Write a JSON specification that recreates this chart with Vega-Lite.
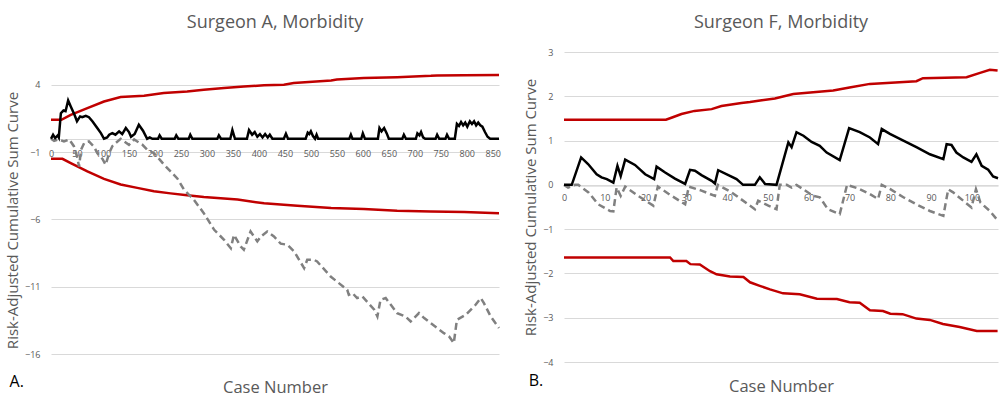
{
  "$schema": "https://vega.github.io/schema/vega-lite/v6.json",
  "padding": {"left": 5, "top": 14, "right": 0, "bottom": 0},
  "background": "white",
  "spacing": 19,
  "config": {
    "view": {"stroke": null},
    "font": "Open Sans",
    "axis": {
      "labelFont": "Open Sans", "titleFont": "Open Sans",
      "labelColor": "#595959", "titleColor": "#595959",
      "titleFontWeight": "normal", "labelFontSize": 9, "titleFontSize": 15,
      "gridColor": "#D9D9D9", "domainColor": "#D9D9D9", "ticks": false
    },
    "title": {"font": "Open Sans", "fontSize": 18, "fontWeight": "normal", "color": "#595959"}
  },
  "datasets": {
    "surgeonA": [
      {"series": "Upper", "case": 0, "value": 1.41},
      {"series": "Upper", "case": 20, "value": 1.41},
      {"series": "Upper", "case": 38, "value": 1.78},
      {"series": "Upper", "case": 70, "value": 2.28},
      {"series": "Upper", "case": 102, "value": 2.77},
      {"series": "Upper", "case": 134, "value": 3.1},
      {"series": "Upper", "case": 179, "value": 3.2},
      {"series": "Upper", "case": 217, "value": 3.4},
      {"series": "Upper", "case": 262, "value": 3.52},
      {"series": "Upper", "case": 294, "value": 3.64},
      {"series": "Upper", "case": 333, "value": 3.77},
      {"series": "Upper", "case": 371, "value": 3.89},
      {"series": "Upper", "case": 410, "value": 3.97},
      {"series": "Upper", "case": 448, "value": 4.02},
      {"series": "Upper", "case": 467, "value": 4.14},
      {"series": "Upper", "case": 539, "value": 4.33},
      {"series": "Upper", "case": 550, "value": 4.4},
      {"series": "Upper", "case": 602, "value": 4.51},
      {"series": "Upper", "case": 666, "value": 4.58},
      {"series": "Upper", "case": 731, "value": 4.68},
      {"series": "Upper", "case": 743, "value": 4.71},
      {"series": "Upper", "case": 795, "value": 4.73},
      {"series": "Upper", "case": 862, "value": 4.74},
      {"series": "Lower", "case": 0, "value": -1.49},
      {"series": "Lower", "case": 22, "value": -1.49},
      {"series": "Lower", "case": 38, "value": -1.81},
      {"series": "Lower", "case": 70, "value": -2.43},
      {"series": "Lower", "case": 102, "value": -2.98},
      {"series": "Lower", "case": 134, "value": -3.4},
      {"series": "Lower", "case": 166, "value": -3.65},
      {"series": "Lower", "case": 198, "value": -3.9},
      {"series": "Lower", "case": 230, "value": -4.06},
      {"series": "Lower", "case": 262, "value": -4.2},
      {"series": "Lower", "case": 294, "value": -4.33},
      {"series": "Lower", "case": 359, "value": -4.52},
      {"series": "Lower", "case": 410, "value": -4.8},
      {"series": "Lower", "case": 448, "value": -4.9},
      {"series": "Lower", "case": 474, "value": -4.98},
      {"series": "Lower", "case": 539, "value": -5.15},
      {"series": "Lower", "case": 602, "value": -5.23},
      {"series": "Lower", "case": 666, "value": -5.35},
      {"series": "Lower", "case": 731, "value": -5.4},
      {"series": "Lower", "case": 795, "value": -5.45},
      {"series": "Lower", "case": 862, "value": -5.53},
      {"series": "Observed", "case": 0, "value": 0},
      {"series": "Observed", "case": 4, "value": 0.3},
      {"series": "Observed", "case": 8, "value": 0.05},
      {"series": "Observed", "case": 13, "value": 0.25},
      {"series": "Observed", "case": 15, "value": 0.1},
      {"series": "Observed", "case": 19, "value": 1.9},
      {"series": "Observed", "case": 24, "value": 2.1},
      {"series": "Observed", "case": 28, "value": 2.05},
      {"series": "Observed", "case": 33, "value": 2.85},
      {"series": "Observed", "case": 38, "value": 2.4},
      {"series": "Observed", "case": 45, "value": 1.8},
      {"series": "Observed", "case": 50, "value": 1.3},
      {"series": "Observed", "case": 56, "value": 1.66},
      {"series": "Observed", "case": 60, "value": 1.6},
      {"series": "Observed", "case": 67, "value": 1.71},
      {"series": "Observed", "case": 73, "value": 1.6},
      {"series": "Observed", "case": 80, "value": 1.29},
      {"series": "Observed", "case": 89, "value": 0.8},
      {"series": "Observed", "case": 96, "value": 0.42},
      {"series": "Observed", "case": 102, "value": 0},
      {"series": "Observed", "case": 108, "value": 0.1},
      {"series": "Observed", "case": 112, "value": 0.3},
      {"series": "Observed", "case": 118, "value": 0.42},
      {"series": "Observed", "case": 124, "value": 0.3},
      {"series": "Observed", "case": 131, "value": 0.55},
      {"series": "Observed", "case": 137, "value": 0.35},
      {"series": "Observed", "case": 144, "value": 0.8},
      {"series": "Observed", "case": 150, "value": 0.5},
      {"series": "Observed", "case": 154, "value": 0.15},
      {"series": "Observed", "case": 161, "value": 0.35},
      {"series": "Observed", "case": 169, "value": 1.04},
      {"series": "Observed", "case": 177, "value": 0.6},
      {"series": "Observed", "case": 185, "value": 0},
      {"series": "Observed", "case": 190, "value": 0.1},
      {"series": "Observed", "case": 195, "value": 0},
      {"series": "Observed", "case": 206, "value": 0},
      {"series": "Observed", "case": 209, "value": 0.25},
      {"series": "Observed", "case": 213, "value": 0},
      {"series": "Observed", "case": 238, "value": 0},
      {"series": "Observed", "case": 241, "value": 0.25},
      {"series": "Observed", "case": 245, "value": 0},
      {"series": "Observed", "case": 265, "value": 0},
      {"series": "Observed", "case": 268, "value": 0.3},
      {"series": "Observed", "case": 272, "value": 0},
      {"series": "Observed", "case": 320, "value": 0},
      {"series": "Observed", "case": 323, "value": 0.25},
      {"series": "Observed", "case": 327, "value": 0},
      {"series": "Observed", "case": 345, "value": 0},
      {"series": "Observed", "case": 349, "value": 0.65},
      {"series": "Observed", "case": 354, "value": 0},
      {"series": "Observed", "case": 377, "value": 0},
      {"series": "Observed", "case": 381, "value": 0.65},
      {"series": "Observed", "case": 387, "value": 0.3},
      {"series": "Observed", "case": 392, "value": 0.5},
      {"series": "Observed", "case": 397, "value": 0.15},
      {"series": "Observed", "case": 402, "value": 0.35},
      {"series": "Observed", "case": 407, "value": 0.1},
      {"series": "Observed", "case": 412, "value": 0.35},
      {"series": "Observed", "case": 417, "value": 0.1},
      {"series": "Observed", "case": 421, "value": 0.3},
      {"series": "Observed", "case": 426, "value": 0},
      {"series": "Observed", "case": 448, "value": 0},
      {"series": "Observed", "case": 452, "value": 0.37},
      {"series": "Observed", "case": 456, "value": 0},
      {"series": "Observed", "case": 490, "value": 0},
      {"series": "Observed", "case": 494, "value": 0.45},
      {"series": "Observed", "case": 497, "value": 0.35},
      {"series": "Observed", "case": 500, "value": 0.55},
      {"series": "Observed", "case": 504, "value": 0.2},
      {"series": "Observed", "case": 508, "value": 0},
      {"series": "Observed", "case": 511, "value": 0.3},
      {"series": "Observed", "case": 514, "value": 0},
      {"series": "Observed", "case": 574, "value": 0},
      {"series": "Observed", "case": 577, "value": 0.3},
      {"series": "Observed", "case": 580, "value": 0},
      {"series": "Observed", "case": 597, "value": 0},
      {"series": "Observed", "case": 600, "value": 0.4},
      {"series": "Observed", "case": 604, "value": 0},
      {"series": "Observed", "case": 629, "value": 0},
      {"series": "Observed", "case": 632, "value": 0.8},
      {"series": "Observed", "case": 636, "value": 0.55},
      {"series": "Observed", "case": 641, "value": 0.8},
      {"series": "Observed", "case": 646, "value": 0.4},
      {"series": "Observed", "case": 650, "value": 0},
      {"series": "Observed", "case": 676, "value": 0},
      {"series": "Observed", "case": 679, "value": 0.3},
      {"series": "Observed", "case": 683, "value": 0},
      {"series": "Observed", "case": 702, "value": 0},
      {"series": "Observed", "case": 705, "value": 0.4},
      {"series": "Observed", "case": 709, "value": 0.25},
      {"series": "Observed", "case": 712, "value": 0.5},
      {"series": "Observed", "case": 716, "value": 0.1},
      {"series": "Observed", "case": 720, "value": 0},
      {"series": "Observed", "case": 740, "value": 0},
      {"series": "Observed", "case": 743, "value": 0.3},
      {"series": "Observed", "case": 747, "value": 0},
      {"series": "Observed", "case": 759, "value": 0},
      {"series": "Observed", "case": 762, "value": 0.3},
      {"series": "Observed", "case": 766, "value": 0},
      {"series": "Observed", "case": 777, "value": 0},
      {"series": "Observed", "case": 781, "value": 1.1},
      {"series": "Observed", "case": 785, "value": 0.95},
      {"series": "Observed", "case": 789, "value": 1.25},
      {"series": "Observed", "case": 793, "value": 1.0},
      {"series": "Observed", "case": 797, "value": 1.2},
      {"series": "Observed", "case": 801, "value": 0.9},
      {"series": "Observed", "case": 806, "value": 1.3},
      {"series": "Observed", "case": 810, "value": 1.1},
      {"series": "Observed", "case": 814, "value": 1.3},
      {"series": "Observed", "case": 818, "value": 1.0},
      {"series": "Observed", "case": 822, "value": 1.2},
      {"series": "Observed", "case": 826, "value": 1.0},
      {"series": "Observed", "case": 830, "value": 0.9},
      {"series": "Observed", "case": 835, "value": 0.5},
      {"series": "Observed", "case": 840, "value": 0.15},
      {"series": "Observed", "case": 845, "value": 0},
      {"series": "Observed", "case": 862, "value": 0},
      {"series": "Negative", "case": 0, "value": 0},
      {"series": "Negative", "case": 6, "value": -0.15},
      {"series": "Negative", "case": 15, "value": -0.05},
      {"series": "Negative", "case": 25, "value": -0.2},
      {"series": "Negative", "case": 35, "value": -0.05},
      {"series": "Negative", "case": 44, "value": -0.55},
      {"series": "Negative", "case": 50, "value": -1.3},
      {"series": "Negative", "case": 54, "value": -2.06},
      {"series": "Negative", "case": 58, "value": -0.8},
      {"series": "Negative", "case": 64, "value": -0.3},
      {"series": "Negative", "case": 73, "value": -0.2},
      {"series": "Negative", "case": 83, "value": -0.6},
      {"series": "Negative", "case": 89, "value": -1.07},
      {"series": "Negative", "case": 99, "value": -1.5},
      {"series": "Negative", "case": 105, "value": -1.93},
      {"series": "Negative", "case": 112, "value": -1.07},
      {"series": "Negative", "case": 118, "value": -0.55},
      {"series": "Negative", "case": 125, "value": -0.3},
      {"series": "Negative", "case": 134, "value": 0},
      {"series": "Negative", "case": 141, "value": -0.2},
      {"series": "Negative", "case": 150, "value": -0.45},
      {"series": "Negative", "case": 160, "value": -0.05},
      {"series": "Negative", "case": 166, "value": -0.2},
      {"series": "Negative", "case": 176, "value": -0.45},
      {"series": "Negative", "case": 185, "value": -0.8},
      {"series": "Negative", "case": 198, "value": -1.07},
      {"series": "Negative", "case": 208, "value": -1.5},
      {"series": "Negative", "case": 217, "value": -1.9},
      {"series": "Negative", "case": 230, "value": -2.43},
      {"series": "Negative", "case": 243, "value": -2.95},
      {"series": "Negative", "case": 256, "value": -3.79},
      {"series": "Negative", "case": 275, "value": -4.54},
      {"series": "Negative", "case": 294, "value": -5.53},
      {"series": "Negative", "case": 314, "value": -6.77},
      {"series": "Negative", "case": 333, "value": -7.51},
      {"series": "Negative", "case": 346, "value": -8.14},
      {"series": "Negative", "case": 352, "value": -7.14},
      {"series": "Negative", "case": 365, "value": -8.0},
      {"series": "Negative", "case": 371, "value": -8.25},
      {"series": "Negative", "case": 384, "value": -6.89},
      {"series": "Negative", "case": 397, "value": -7.63},
      {"series": "Negative", "case": 404, "value": -7.26},
      {"series": "Negative", "case": 416, "value": -6.89},
      {"series": "Negative", "case": 429, "value": -7.26},
      {"series": "Negative", "case": 442, "value": -7.8},
      {"series": "Negative", "case": 455, "value": -7.88},
      {"series": "Negative", "case": 468, "value": -8.38},
      {"series": "Negative", "case": 487, "value": -9.62},
      {"series": "Negative", "case": 493, "value": -9.0},
      {"series": "Negative", "case": 506, "value": -9.0},
      {"series": "Negative", "case": 512, "value": -9.12},
      {"series": "Negative", "case": 538, "value": -10.24},
      {"series": "Negative", "case": 570, "value": -11.23},
      {"series": "Negative", "case": 573, "value": -11.6},
      {"series": "Negative", "case": 580, "value": -11.47},
      {"series": "Negative", "case": 589, "value": -11.84},
      {"series": "Negative", "case": 599, "value": -11.72},
      {"series": "Negative", "case": 622, "value": -12.71},
      {"series": "Negative", "case": 628, "value": -13.21},
      {"series": "Negative", "case": 634, "value": -11.97},
      {"series": "Negative", "case": 644, "value": -11.84},
      {"series": "Negative", "case": 666, "value": -12.96},
      {"series": "Negative", "case": 682, "value": -13.21},
      {"series": "Negative", "case": 692, "value": -13.58},
      {"series": "Negative", "case": 708, "value": -12.96},
      {"series": "Negative", "case": 718, "value": -13.33},
      {"series": "Negative", "case": 743, "value": -14.07},
      {"series": "Negative", "case": 756, "value": -14.45},
      {"series": "Negative", "case": 766, "value": -14.7},
      {"series": "Negative", "case": 775, "value": -15.19},
      {"series": "Negative", "case": 781, "value": -13.46},
      {"series": "Negative", "case": 798, "value": -13.09},
      {"series": "Negative", "case": 817, "value": -12.34},
      {"series": "Negative", "case": 827, "value": -11.84},
      {"series": "Negative", "case": 833, "value": -12.22},
      {"series": "Negative", "case": 846, "value": -13.21},
      {"series": "Negative", "case": 862, "value": -14.07}
    ],
    "surgeonF": [
      {"series": "Upper", "case": 0, "value": 1.47},
      {"series": "Upper", "case": 25, "value": 1.47},
      {"series": "Upper", "case": 26.5, "value": 1.52},
      {"series": "Upper", "case": 28.8, "value": 1.6},
      {"series": "Upper", "case": 32, "value": 1.67},
      {"series": "Upper", "case": 36.2, "value": 1.71},
      {"series": "Upper", "case": 38.6, "value": 1.78},
      {"series": "Upper", "case": 43.5, "value": 1.85},
      {"series": "Upper", "case": 45.6, "value": 1.87},
      {"series": "Upper", "case": 48.5, "value": 1.91},
      {"series": "Upper", "case": 51.7, "value": 1.95},
      {"series": "Upper", "case": 56.2, "value": 2.05},
      {"series": "Upper", "case": 66, "value": 2.13},
      {"series": "Upper", "case": 70, "value": 2.2},
      {"series": "Upper", "case": 75, "value": 2.28},
      {"series": "Upper", "case": 86.4, "value": 2.34},
      {"series": "Upper", "case": 88, "value": 2.41},
      {"series": "Upper", "case": 98.7, "value": 2.43},
      {"series": "Upper", "case": 102, "value": 2.53},
      {"series": "Upper", "case": 104.4, "value": 2.6},
      {"series": "Upper", "case": 106.3, "value": 2.58},
      {"series": "Lower", "case": 0, "value": -1.64},
      {"series": "Lower", "case": 26, "value": -1.64},
      {"series": "Lower", "case": 26.8, "value": -1.72},
      {"series": "Lower", "case": 30, "value": -1.72},
      {"series": "Lower", "case": 31, "value": -1.79},
      {"series": "Lower", "case": 33.3, "value": -1.8},
      {"series": "Lower", "case": 35.8, "value": -1.95},
      {"series": "Lower", "case": 37.4, "value": -2.02},
      {"series": "Lower", "case": 40.7, "value": -2.07},
      {"series": "Lower", "case": 44, "value": -2.08},
      {"series": "Lower", "case": 45.6, "value": -2.2},
      {"series": "Lower", "case": 48, "value": -2.28},
      {"series": "Lower", "case": 50.5, "value": -2.36},
      {"series": "Lower", "case": 53.7, "value": -2.45},
      {"series": "Lower", "case": 57.8, "value": -2.47},
      {"series": "Lower", "case": 62, "value": -2.57},
      {"series": "Lower", "case": 66.9, "value": -2.58},
      {"series": "Lower", "case": 70, "value": -2.65},
      {"series": "Lower", "case": 72.5, "value": -2.66},
      {"series": "Lower", "case": 75, "value": -2.83},
      {"series": "Lower", "case": 78.2, "value": -2.85},
      {"series": "Lower", "case": 80, "value": -2.91},
      {"series": "Lower", "case": 83, "value": -2.92},
      {"series": "Lower", "case": 86.4, "value": -3.02},
      {"series": "Lower", "case": 89.7, "value": -3.05},
      {"series": "Lower", "case": 92.9, "value": -3.14},
      {"series": "Lower", "case": 97, "value": -3.21},
      {"series": "Lower", "case": 101.2, "value": -3.3},
      {"series": "Lower", "case": 106.3, "value": -3.3},
      {"series": "Observed", "case": 0, "value": 0},
      {"series": "Observed", "case": 1.9, "value": 0},
      {"series": "Observed", "case": 4.2, "value": 0.62},
      {"series": "Observed", "case": 5.9, "value": 0.47},
      {"series": "Observed", "case": 8, "value": 0.24},
      {"series": "Observed", "case": 9.2, "value": 0.17},
      {"series": "Observed", "case": 10.5, "value": 0.13},
      {"series": "Observed", "case": 12.1, "value": 0.05},
      {"series": "Observed", "case": 13.1, "value": 0.43},
      {"series": "Observed", "case": 13.9, "value": 0.2},
      {"series": "Observed", "case": 15, "value": 0.57},
      {"series": "Observed", "case": 17.4, "value": 0.45},
      {"series": "Observed", "case": 19.9, "value": 0.24},
      {"series": "Observed", "case": 22.1, "value": 0.13},
      {"series": "Observed", "case": 22.7, "value": 0.41},
      {"series": "Observed", "case": 24.8, "value": 0.28},
      {"series": "Observed", "case": 27.2, "value": 0.14},
      {"series": "Observed", "case": 29.7, "value": 0.02},
      {"series": "Observed", "case": 30.9, "value": 0.34},
      {"series": "Observed", "case": 32.1, "value": 0.32},
      {"series": "Observed", "case": 33.7, "value": 0.22},
      {"series": "Observed", "case": 36.2, "value": 0.09},
      {"series": "Observed", "case": 37, "value": 0.03},
      {"series": "Observed", "case": 37.8, "value": 0.33},
      {"series": "Observed", "case": 40.3, "value": 0.22},
      {"series": "Observed", "case": 42.3, "value": 0.13},
      {"series": "Observed", "case": 43.9, "value": 0},
      {"series": "Observed", "case": 46.8, "value": 0},
      {"series": "Observed", "case": 48, "value": 0.17},
      {"series": "Observed", "case": 49.3, "value": 0.02},
      {"series": "Observed", "case": 52.1, "value": 0},
      {"series": "Observed", "case": 55, "value": 0.96},
      {"series": "Observed", "case": 55.8, "value": 0.85},
      {"series": "Observed", "case": 57, "value": 1.19},
      {"series": "Observed", "case": 58.7, "value": 1.11},
      {"series": "Observed", "case": 60.7, "value": 0.97},
      {"series": "Observed", "case": 62.7, "value": 0.88},
      {"series": "Observed", "case": 64.4, "value": 0.73},
      {"series": "Observed", "case": 67.6, "value": 0.56},
      {"series": "Observed", "case": 69.9, "value": 1.28},
      {"series": "Observed", "case": 72.5, "value": 1.19},
      {"series": "Observed", "case": 75, "value": 1.07},
      {"series": "Observed", "case": 77, "value": 0.92},
      {"series": "Observed", "case": 77.9, "value": 1.26},
      {"series": "Observed", "case": 79.9, "value": 1.15},
      {"series": "Observed", "case": 83.2, "value": 1.0},
      {"series": "Observed", "case": 86.4, "value": 0.85},
      {"series": "Observed", "case": 89.7, "value": 0.69},
      {"series": "Observed", "case": 93, "value": 0.58},
      {"series": "Observed", "case": 93.8, "value": 0.92},
      {"series": "Observed", "case": 95, "value": 0.9},
      {"series": "Observed", "case": 96.2, "value": 0.73},
      {"series": "Observed", "case": 97.9, "value": 0.62},
      {"series": "Observed", "case": 99.9, "value": 0.52},
      {"series": "Observed", "case": 101.1, "value": 0.69},
      {"series": "Observed", "case": 102.4, "value": 0.43},
      {"series": "Observed", "case": 104, "value": 0.34},
      {"series": "Observed", "case": 105.2, "value": 0.19},
      {"series": "Observed", "case": 106.4, "value": 0.15},
      {"series": "Negative", "case": 0, "value": 0},
      {"series": "Negative", "case": 1, "value": -0.06},
      {"series": "Negative", "case": 2.7, "value": 0},
      {"series": "Negative", "case": 3.5, "value": 0},
      {"series": "Negative", "case": 6, "value": -0.17},
      {"series": "Negative", "case": 8.4, "value": -0.44},
      {"series": "Negative", "case": 11.3, "value": -0.59},
      {"series": "Negative", "case": 12.1, "value": -0.6},
      {"series": "Negative", "case": 12.9, "value": -0.06},
      {"series": "Negative", "case": 13.9, "value": -0.25},
      {"series": "Negative", "case": 15, "value": -0.04},
      {"series": "Negative", "case": 18.2, "value": -0.25},
      {"series": "Negative", "case": 21.9, "value": -0.47},
      {"series": "Negative", "case": 23, "value": -0.04},
      {"series": "Negative", "case": 25.6, "value": -0.2},
      {"series": "Negative", "case": 29.7, "value": -0.44},
      {"series": "Negative", "case": 30.6, "value": -0.04},
      {"series": "Negative", "case": 33.7, "value": -0.13},
      {"series": "Negative", "case": 37, "value": -0.25},
      {"series": "Negative", "case": 37.7, "value": 0},
      {"series": "Negative", "case": 41.1, "value": -0.17},
      {"series": "Negative", "case": 46.8, "value": -0.55},
      {"series": "Negative", "case": 47.6, "value": -0.36},
      {"series": "Negative", "case": 50.1, "value": -0.47},
      {"series": "Negative", "case": 52.1, "value": -0.55},
      {"series": "Negative", "case": 52.9, "value": 0},
      {"series": "Negative", "case": 54.6, "value": 0},
      {"series": "Negative", "case": 55.8, "value": -0.06},
      {"series": "Negative", "case": 57, "value": 0},
      {"series": "Negative", "case": 61.1, "value": -0.25},
      {"series": "Negative", "case": 62.7, "value": -0.28},
      {"series": "Negative", "case": 64.7, "value": -0.55},
      {"series": "Negative", "case": 67.6, "value": -0.66},
      {"series": "Negative", "case": 69.4, "value": 0},
      {"series": "Negative", "case": 72.1, "value": -0.08},
      {"series": "Negative", "case": 75, "value": -0.21},
      {"series": "Negative", "case": 77, "value": -0.32},
      {"series": "Negative", "case": 77.9, "value": 0},
      {"series": "Negative", "case": 79.9, "value": -0.09},
      {"series": "Negative", "case": 83.2, "value": -0.28},
      {"series": "Negative", "case": 86.4, "value": -0.44},
      {"series": "Negative", "case": 89.7, "value": -0.59},
      {"series": "Negative", "case": 93, "value": -0.7},
      {"series": "Negative", "case": 94.2, "value": -0.1},
      {"series": "Negative", "case": 95.4, "value": -0.17},
      {"series": "Negative", "case": 97.9, "value": -0.36},
      {"series": "Negative", "case": 99.9, "value": -0.51},
      {"series": "Negative", "case": 101, "value": -0.1},
      {"series": "Negative", "case": 102.1, "value": -0.4},
      {"series": "Negative", "case": 104.4, "value": -0.59},
      {"series": "Negative", "case": 106.4, "value": -0.81}
    ]
  },
  "hconcat": [
    {
      "title": {"text": "A.", "orient": "bottom", "anchor": "start", "offset": -22, "fontSize": 16, "color": "#000000", "dx": 4},
      "vconcat": [
        {
          "width": 448,
          "height": 302,
          "title": {"text": "Surgeon A, Morbidity", "offset": 20},
          "data": {"name": "surgeonA"},
          "encoding": {
            "x": {"field": "case", "type": "quantitative",
              "scale": {"domain": [0, 862], "nice": false, "zero": false},
              "axis": {"title": "Case Number", "values": [0,50,100,150,200,250,300,350,400,450,500,550,600,650,700,750,800,850],
                "grid": false, "offset": -215, "labelPadding": 10, "labelFlush": false, "labelOverlap": false,
                "titleFontSize": 16.5, "titleBaseline": "middle", "titleY": 248}},
            "y": {"field": "value", "type": "quantitative",
              "scale": {"domain": [-16, 6.45], "nice": false, "zero": false},
              "axis": {"title": "Risk-Adjusted Cumulative Sum Curve", "values": [-16,-11,-6,-1,4],
                "domain": false, "labelPadding": 11, "titlePadding": 4, "titleY": 168}}
          },
          "layer": [
            {"transform": [{"filter": "datum.series === 'Upper' || datum.series === 'Lower'"}],
             "mark": {"type": "line", "color": "#C00000", "strokeWidth": 2.5},
             "encoding": {"detail": {"field": "series"}}},
            {"transform": [{"filter": "datum.series === 'Negative'"}],
             "mark": {"type": "line", "color": "#808080", "strokeWidth": 2.5, "strokeDash": [7, 4]},
             "encoding": {}},
            {"transform": [{"filter": "datum.series === 'Observed'"}],
             "mark": {"type": "line", "color": "#000000", "strokeWidth": 2.5},
             "encoding": {}}
          ]
        }
      ]
    },
    {
      "title": {"text": "B.", "orient": "bottom", "anchor": "start", "offset": -22, "fontSize": 16, "color": "#000000", "dx": 5},
      "vconcat": [
        {
          "width": 434,
          "height": 310,
          "title": {"text": "Surgeon F, Morbidity", "offset": 16},
          "data": {"name": "surgeonF"},
          "encoding": {
            "x": {"field": "case", "type": "quantitative",
              "scale": {"domain": [0, 106.4], "nice": false, "zero": false},
              "axis": {"title": "Case Number", "values": [0,10,20,30,40,50,60,70,80,90,100],
                "grid": false, "offset": -176.3, "labelPadding": 8, "labelFlush": false, "labelOverlap": false,
                "titleFontSize": 16.5, "titleBaseline": "middle", "titleY": 201}},
            "y": {"field": "value", "type": "quantitative",
              "scale": {"domain": [-4, 3], "nice": false, "zero": false},
              "axis": {"title": "Risk-Adjusted Cumulative Sum Curve", "values": [-4,-3,-2,-1,0,1,2,3],
                "domain": false, "labelPadding": 11, "titlePadding": 4}}
          },
          "layer": [
            {"transform": [{"filter": "datum.series === 'Upper' || datum.series === 'Lower'"}],
             "mark": {"type": "line", "color": "#C00000", "strokeWidth": 2.5},
             "encoding": {"detail": {"field": "series"}}},
            {"transform": [{"filter": "datum.series === 'Negative'"}],
             "mark": {"type": "line", "color": "#808080", "strokeWidth": 2.5, "strokeDash": [7, 4]},
             "encoding": {}},
            {"transform": [{"filter": "datum.series === 'Observed'"}],
             "mark": {"type": "line", "color": "#000000", "strokeWidth": 2.5},
             "encoding": {}}
          ]
        }
      ]
    }
  ]
}
